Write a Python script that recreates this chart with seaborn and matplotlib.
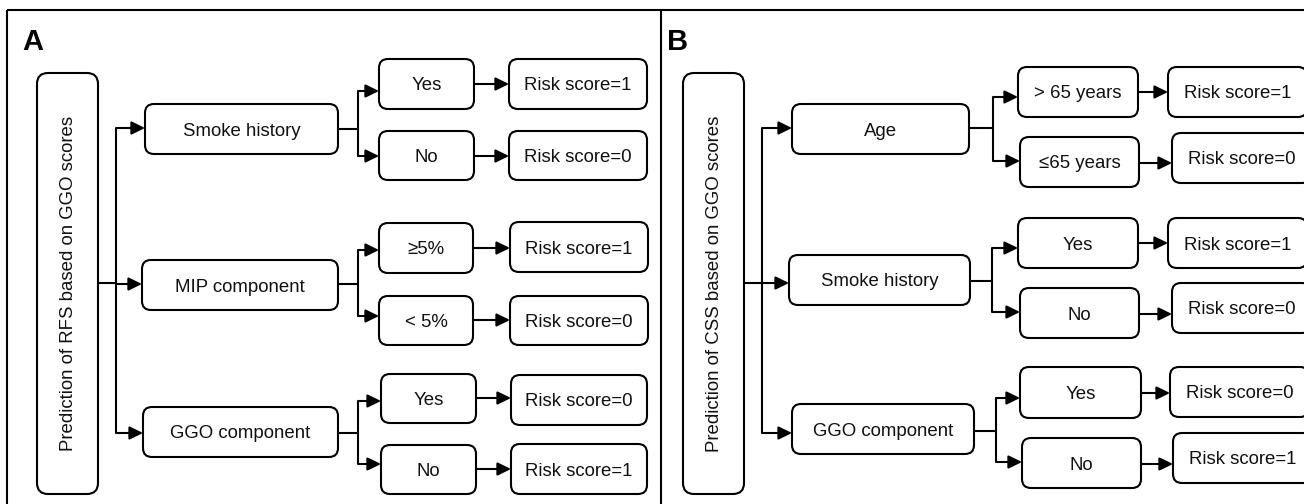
import matplotlib
matplotlib.use("Agg")
import matplotlib.pyplot as plt
from matplotlib.patches import FancyBboxPatch
import seaborn as sns

# ---------------- data (labels) ----------------
panel_letters = ["A", "B"]
root_labels = ["Prediction of RFS based on GGO scores",
               "Prediction of CSS based on GGO scores"]
factor_labels_A = ["Smoke history", "MIP component", "GGO component"]
factor_labels_B = ["Age", "Smoke history", "GGO component"]
branch_labels_A = [["Yes", "No"], ["\u22655%", "< 5%"], ["Yes", "No"]]
branch_labels_B = [["> 65 years", "\u226465 years"], ["Yes", "No"], ["Yes", "No"]]
scores_A = [[1, 0], [1, 0], [0, 1]]
scores_B = [[1, 0], [1, 0], [0, 1]]

# ---------------- layout (pixel coordinates) ----------------
layout_A = dict(
    letter=(22, 50),
    root=(37, 73, 98, 494),
    trunk_x=116, root_out_y=283,
    factor_boxes=[(145, 104, 338, 154), (142, 260, 338, 310), (143, 407, 338, 457)],
    factor_in_y=[128, 284, 433],
    factor_out_y=[129, 284, 433],
    branch_x=[358, 358, 358],
    branch_arrow_y=[(91, 156), (250, 316), (401, 464)],
    branch_boxes=[[(379, 59, 474, 109), (379, 131, 474, 180)],
                  [(379, 223, 473, 273), (379, 296, 473, 345)],
                  [(381, 374, 476, 423), (381, 445, 476, 494)]],
    score_boxes=[[(509, 59, 647, 109), (509, 131, 647, 180)],
                 [(510, 222, 648, 272), (510, 296, 648, 345)],
                 [(511, 375, 647, 425), (511, 444, 647, 494)]],
    link_y=[[84, 156], [248, 320], [398, 469]],
)
layout_B = dict(
    letter=(667, 50),
    root=(683, 73, 744, 494),
    trunk_x=762, root_out_y=283,
    factor_boxes=[(792, 104, 969, 154), (789, 255, 970, 305), (792, 404, 974, 454)],
    factor_in_y=[128, 283, 433],
    factor_out_y=[128, 281, 431],
    branch_x=[993, 992, 996],
    branch_arrow_y=[(97, 161), (248, 312), (398, 462)],
    branch_boxes=[[(1018, 67, 1138, 117), (1020, 137, 1139, 187)],
                  [(1018, 218, 1138, 268), (1020, 288, 1139, 338)],
                  [(1020, 367, 1141, 418), (1022, 438, 1141, 488)]],
    score_boxes=[[(1168, 67, 1307, 117), (1172, 133, 1311, 183)],
                 [(1168, 218, 1307, 268), (1172, 283, 1311, 333)],
                 [(1170, 367, 1309, 417), (1173, 433, 1312, 483)]],
    link_y=[[92, 163], [243, 314], [393, 464]],
)

# ---------------- style ----------------
sns.set_theme(style="white")
plt.rcParams["font.family"] = ["Liberation Sans", "DejaVu Sans"]
FS = 13.4
LW = 1.5
COL = "black"

fig = plt.figure(figsize=(13.04, 5.04), dpi=100)
ax = fig.add_axes([0, 0, 1, 1])
ax.set_xlim(0, 1304)
ax.set_ylim(504, 0)
ax.axis("off")


def box(b, r=9):
    x0, y0, x1, y1 = b
    p = FancyBboxPatch((x0, y0), x1 - x0, y1 - y0,
                       boxstyle=f"round,pad=0,rounding_size={r}",
                       facecolor="white", edgecolor=COL, linewidth=LW, zorder=3)
    ax.add_patch(p)


def label(b, s, **kw):
    x0, y0, x1, y1 = b
    ax.text((x0 + x1) / 2, (y0 + y1) / 2 + 2, s, ha="center", va="center",
            fontsize=FS, color="#111111", zorder=4, **kw)


def arrow(x0, x1, y):
    ax.annotate("", xy=(x1, y), xytext=(x0, y),
                arrowprops=dict(arrowstyle="-|>,head_length=0.45,head_width=0.22",
                                mutation_scale=18, lw=LW, color=COL,
                                shrinkA=0, shrinkB=0), zorder=2)


def line(xs, ys):
    ax.plot(xs, ys, color=COL, lw=LW, solid_capstyle="butt", zorder=2)


# frame
line([7, 1304], [10, 10])
line([7, 7], [10, 504])
line([661, 661], [10, 504])

panels = [
    (layout_A, factor_labels_A, branch_labels_A, scores_A),
    (layout_B, factor_labels_B, branch_labels_B, scores_B),
]

for i, (L, flabels, blabels, scores) in enumerate(panels):
    ax.text(L["letter"][0], L["letter"][1], panel_letters[i], fontsize=21,
            fontweight="bold", ha="left", va="baseline", color=COL)
    # root box
    box(L["root"], r=11)
    rx0, ry0, rx1, ry1 = L["root"]
    ax.text((rx0 + rx1) / 2 + 1, (ry0 + ry1) / 2, root_labels[i], rotation=90,
            ha="center", va="center", fontsize=FS, color="#111111", zorder=4)
    # trunk
    tx = L["trunk_x"]
    line([rx1, tx], [L["root_out_y"], L["root_out_y"]])
    line([tx, tx], [L["factor_in_y"][0], L["factor_in_y"][-1]])
    for j in range(3):
        fb = L["factor_boxes"][j]
        arrow(tx, fb[0], L["factor_in_y"][j])
        box(fb)
        label(fb, flabels[j])
        bx = L["branch_x"][j]
        oy = L["factor_out_y"][j]
        line([fb[2], bx], [oy, oy])
        ya, yb = L["branch_arrow_y"][j]
        line([bx, bx], [ya, yb])
        for k in range(2):
            bb = L["branch_boxes"][j][k]
            sb = L["score_boxes"][j][k]
            arrow(bx, bb[0], L["branch_arrow_y"][j][k])
            box(bb)
            label(bb, blabels[j][k])
            arrow(bb[2], sb[0], L["link_y"][j][k])
            box(sb)
            label(sb, f"Risk score={scores[j][k]}")

fig.savefig("out.png", dpi=100)
